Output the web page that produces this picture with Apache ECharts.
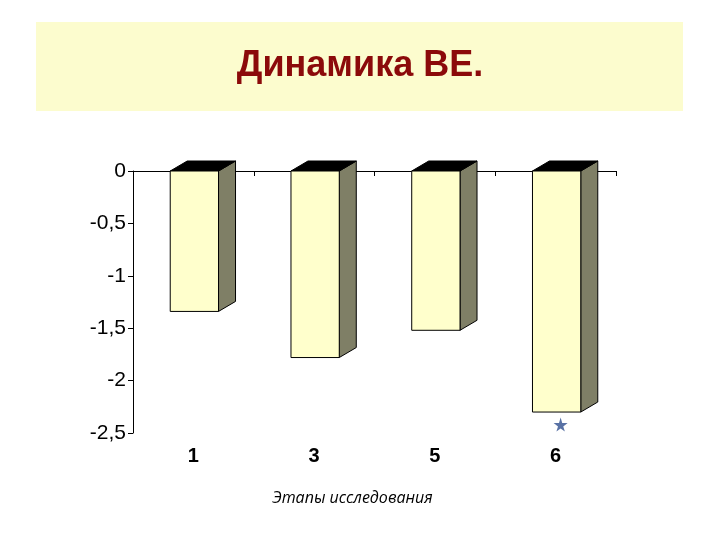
<!DOCTYPE html>
<html>
<head>
<meta charset="utf-8">
<script src="https://cdn.jsdelivr.net/npm/echarts@6/dist/echarts.min.js"></script>
<style>
html, body { margin: 0; padding: 0; background: #fff; }
#chart1 { width: 720px; height: 540px; }
</style>
</head>
<body>
<div id="chart1"></div>
<script>
var myChart = echarts.init(document.getElementById('chart1'));

// данные
var stages = ['1', '3', '5', '6'];
var values = [-1.34, -1.78, -1.52, -2.3];
var yTicks = [0, -0.5, -1, -1.5, -2, -2.5];
var starPoints = [['6', -2.42]]; // достоверность

var depthX = 17, depthY = 10; // псевдо-3D

function bar3d(params, api) {
	var x0 = api.coord([api.value(0), 0]);
	var x1 = api.coord([api.value(0), api.value(1)]);
	var w = api.size([1, 0])[0] * 0.4;
	var left = x0[0] - w / 2 + 1;
	var right = left + w;
	var top = x0[1];
	var bottom = x1[1];
	return {
		type: 'group',
		children: [
			{ //правая грань
				type: 'polygon',
				shape: { points: [[right, top], [right + depthX, top - depthY], [right + depthX, bottom - depthY], [right, bottom]] },
				style: { fill: '#7f7f66', stroke: '#000', lineWidth: 1 }
			},
			{ //верх
				type: 'polygon',
				shape: { points: [[left, top], [left + depthX, top - depthY], [right + depthX, top - depthY], [right, top]] },
				style: { fill: '#000', stroke: '#000', lineWidth: 1 }
			},
			{ //фасад
				type: 'rect',
				shape: { x: left, y: top, width: w, height: bottom - top },
				style: { fill: '#ffffcc', stroke: '#000', lineWidth: 1 }
			}
		]
	};
}

var option = {
	backgroundColor: '#fff',
	animation: false,
	graphic: [
		{
			type: 'rect',
			shape: { x: 36, y: 22, width: 647, height: 89 },
			style: { fill: '#fcfcce' },
			z: -1
		}
	],
	title: {
		text: 'Динамика ВЕ.',
		left: 'center',
		top: 43,
		textStyle: {
			color: '#8b0a0a',
			fontFamily: 'Liberation Sans',
			fontWeight: 'bold',
			fontSize: 36
		}
	},
	grid: { left: 133, right: 104, top: 171, bottom: 107, containLabel: false, outerBoundsMode: 'none' },
	xAxis: [
		{ //линия на нуле
			type: 'category',
			data: stages,
			boundaryGap: true,
			axisLine: { onZero: true, lineStyle: { color: '#000', width: 1 } },
			axisTick: { show: true, length: 5, lineStyle: { color: '#000' } },
			axisLabel: { show: false },
			splitLine: { show: false }
		},
		{ //подписи внизу
			type: 'category',
			data: stages,
			position: 'bottom',
			offset: 0,
			axisLine: { show: false, onZero: false },
			axisTick: { show: false },
			axisLabel: {
				margin: 13,
				color: '#000',
				fontFamily: 'Liberation Sans',
				fontWeight: 'bold',
				fontSize: 20
			},
			name: 'Этапы исследования',
			nameLocation: 'middle',
			nameGap: 57,
			nameTextStyle: {
				color: '#000',
				fontFamily: 'Open Sans',
				fontStyle: 'italic',
				fontSize: 16,
				padding: [0, 44, 0, 0]
			},
			splitLine: { show: false }
		}
	],
	yAxis: {
		type: 'value',
		min: -2.5,
		max: 0,
		interval: 0.5,
		axisLine: { show: true, lineStyle: { color: '#000', width: 1 } },
		axisTick: { show: true, length: 5, lineStyle: { color: '#000' } },
		axisLabel: {
			margin: 7,
			color: '#000',
			fontFamily: 'Liberation Sans',
			fontSize: 21,
			formatter: function (v) { return String(v).replace('.', ','); }
		},
		splitLine: { show: false }
	},
	series: [
		{
			name: 'ВЕ',
			type: 'custom',
			renderItem: bar3d,
			encode: { x: 0, y: 1 },
			data: stages.map(function (s, i) { return [s, values[i]]; }),
			z: 3
		},
		{
			name: 'p',
			type: 'scatter',
			symbol: 'path://M50,0 L61,35 L98,35 L68,57 L79,91 L50,70 L21,91 L32,57 L2,35 L39,35 Z',
			symbolSize: 14,
			symbolOffset: [5, 0],
			itemStyle: { color: '#2f4f8f' },
			data: starPoints,
			z: 4
		}
	]
};
myChart.setOption(option);
</script>
</body>
</html>
